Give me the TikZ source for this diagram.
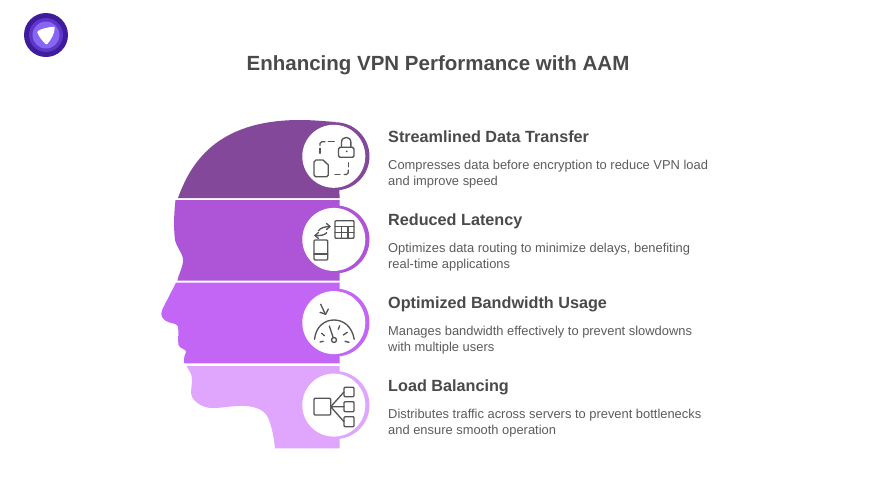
\documentclass[tikz,border=0pt]{standalone}
\usepackage{fontspec}
\setmainfont{Liberation Sans}
\definecolor{bandA}{HTML}{84489B}
\definecolor{bandB}{HTML}{AD55D6}
\definecolor{bandC}{HTML}{C466F5}
\definecolor{bandD}{HTML}{E0A6FE}
\definecolor{inkT}{HTML}{4A4A4A}
\definecolor{inkD}{HTML}{5C5C5C}
\definecolor{iconc}{HTML}{555555}
\definecolor{logoA}{HTML}{3F1C9C}
\definecolor{logoB}{HTML}{5E36C8}
\definecolor{logoC}{HTML}{8766F5}
\tikzset{
  x=1pt,y=-1pt,
  titletxt/.style={anchor=base,font=\bfseries\fontsize{20.5}{24}\selectfont,text=inkT,inner sep=0pt},
  headtxt/.style={anchor=base west,font=\bfseries\fontsize{16.2}{18}\selectfont,text=inkT,inner sep=0pt},
  desctxt/.style={anchor=base west,font=\fontsize{12.9}{14}\selectfont,text=inkD,inner sep=0pt},
  ico/.style={draw=iconc,line width=1.35pt,line cap=round,line join=round},
}
\begin{document}
\begin{tikzpicture}
\useasboundingbox (0,0) rectangle (876,493);
\fill[white] (0,0) rectangle (876,493);
% logo
\fill[logoA] (46,35) circle (22);
\fill[logoB] (46,35) circle (17);
\fill[logoC] (46,35) circle (13.5);
\fill[white,draw=white,line width=2.5pt,line join=round] (38.5,32) .. controls (43,29.5) and (48,28.5) .. (53.5,28) .. controls (53,34) and (50,39) .. (46.5,43) .. controls (43,40) and (40,36) .. (38.5,32) -- cycle;
% title
\node[titletxt] (title) at (438,70.3) {Enhancing VPN Performance with AAM};
% head bands
\fill[bandA] (178,198) .. controls (190,165) and (215,120) .. (300,120) .. controls (312,120) and (322,121) .. (335.5,122) -- (339.7,198) -- cycle;
\fill[bandB] (175.5,200) .. controls (174,212) and (173.5,228) .. (175,240) .. controls (177,248) and (183,254) .. (183.3,260) .. controls (183,266) and (179,274) .. (177.3,280.7) -- (339.7,280.7) -- (339.7,200) -- cycle;
\fill[bandC] (176,282.7) -- (162.5,309) .. controls (160,315) and (161.5,318) .. (166,321) .. controls (170,323.5) and (177,323) .. (178,326.5) .. controls (179,332) and (177.5,340) .. (178.5,345) .. controls (180,349) and (186,349) .. (186,351.5) .. controls (186,354) and (183,356) .. (184.3,363.3) -- (339.7,363.3) -- (339.7,282.7) -- cycle;
\fill[bandD] (186.5,366) .. controls (189,371) and (192,373) .. (192,380) .. controls (192,386) and (190,393) .. (192,397) .. controls (196,404) and (205,408) .. (212,408) .. controls (225,408) and (235,405) .. (246,406) .. controls (258,407) and (266,411) .. (269,420) .. controls (272,428) and (274,438) .. (275,448.3) -- (339.7,448.3) -- (339.7,366) -- cycle;
% discs
\fill[bandA] (335.5,156.3) circle (34);
\fill[bandB] (335.5,239.4) circle (34);
\fill[bandC] (335.5,322.6) circle (34);
\fill[bandD] (335.5,405.1) circle (34);
\foreach \yy/\nm in {156.3/a,239.4/b,322.6/c,405.1/d}
  \node[circle,fill=white,minimum size=63pt,inner sep=0pt] (disc\nm) at (333.8,\yy) {};
% icon 1
\draw[ico,rounded corners=1.5pt] (338.5,147.3) rectangle (354,157.3);
\draw[ico] (341.5,147.3) -- (341.5,142.3) .. controls (341.5,135.8) and (350.9,135.8) .. (350.9,142.3) -- (350.9,147.3);
\fill[iconc] (346.7,151.3) circle (1);
\draw[ico] (314,162) -- (314,175) -- (315.5,176.7) -- (326.8,176.7) -- (328.3,175) -- (328.3,165) -- (323,160) -- (316,160) -- cycle;
\draw[ico] (320,148.3) -- (320,153.3);
\draw[ico] (320,145.5) -- (320,143.5) -- (321.8,141.7) -- (325,141.7);
\draw[ico] (328.3,141.7) -- (334.3,141.7);
\draw[ico] (348.3,162.7) -- (348.3,166.7);
\draw[ico] (348.3,170) -- (348.3,172.7) -- (346.5,174.5) -- (344.3,174.5);
\draw[ico] (335,174.5) -- (340,174.5);
% icon 2
\draw[ico,rounded corners=1pt] (335,220.7) rectangle (354,238.3);
\draw[ico] (335,226.7) -- (354,226.7) (335,232.7) -- (354,232.7) (341.5,226.7) -- (341.5,238.3) (348,226.7) -- (348,238.3);
\draw[ico,rounded corners=1pt] (314,240) rectangle (327.7,260);
\draw[ico] (314,254) -- (327.7,254);
\draw[ico] (318.3,231) .. controls (320,228) and (325,226.5) .. (330,226.5);
\draw[ico] (326.5,223.5) -- (330,226.5) -- (326.5,229.5);
\draw[ico] (326.7,232.7) .. controls (325,235) and (320,236) .. (315,235.5);
\draw[ico] (318.5,232.5) -- (315,235.5) -- (318.5,238.5);
% icon 3
\draw[ico] (314.5,339.3) .. controls (316,326) and (325,320) .. (334,320) .. controls (343,320) and (352,326) .. (354.2,339.3);
\draw[ico] (334,340) circle (2.5);
\draw[ico] (329.3,326) -- (333.2,337.6);
\draw[ico] (321.7,333.3) -- (324.3,335.7) (338.3,329.3) -- (339.7,325.7) (343.3,335) -- (347.3,332.3) (320,342) -- (323.3,341.3) (345,341.3) -- (349,342.3);
\draw[ico] (320.7,304.3) -- (325,313.5);
\draw[ico] (320,312.3) -- (325.7,314.3) -- (328.3,309);
% icon 4
\draw[ico,rounded corners=1pt] (314,398.3) rectangle (330.7,415);
\draw[ico,rounded corners=1pt] (344,387.3) rectangle (354,396.7);
\draw[ico,rounded corners=1pt] (344,401.7) rectangle (354,411.7);
\draw[ico,rounded corners=1pt] (344,416.7) rectangle (354,426.7);
\coordinate (hub) at (330.7,406.7);
\coordinate (leafa) at (344,392);
\coordinate (leafb) at (344,406.7);
\coordinate (leafc) at (344,421.7);
\draw[ico] (hub) -- (leafa) (hub) -- (leafb) (hub) -- (leafc);
% text
\node[headtxt] (h1) at (388,142.3) {Streamlined Data Transfer};
\node[desctxt] (d1a) at (388,169.3) {Compresses data before encryption to reduce VPN load};
\node[desctxt] (d1b) at (388,185.3) {and improve speed};
\node[headtxt] (h2) at (388,225.3) {Reduced Latency};
\node[desctxt] (d2a) at (388,252.3) {Optimizes data routing to minimize delays, benefiting};
\node[desctxt] (d2b) at (388,268.3) {real-time applications};
\node[headtxt] (h3) at (388,308.3) {Optimized Bandwidth Usage};
\node[desctxt] (d3a) at (388,335.3) {Manages bandwidth effectively to prevent slowdowns};
\node[desctxt] (d3b) at (388,351.3) {with multiple users};
\node[headtxt] (h4) at (388,391.3) {Load Balancing};
\node[desctxt] (d4a) at (388,418.3) {Distributes traffic across servers to prevent bottlenecks};
\node[desctxt] (d4b) at (388,434.3) {and ensure smooth operation};
\end{tikzpicture}
\end{document}
